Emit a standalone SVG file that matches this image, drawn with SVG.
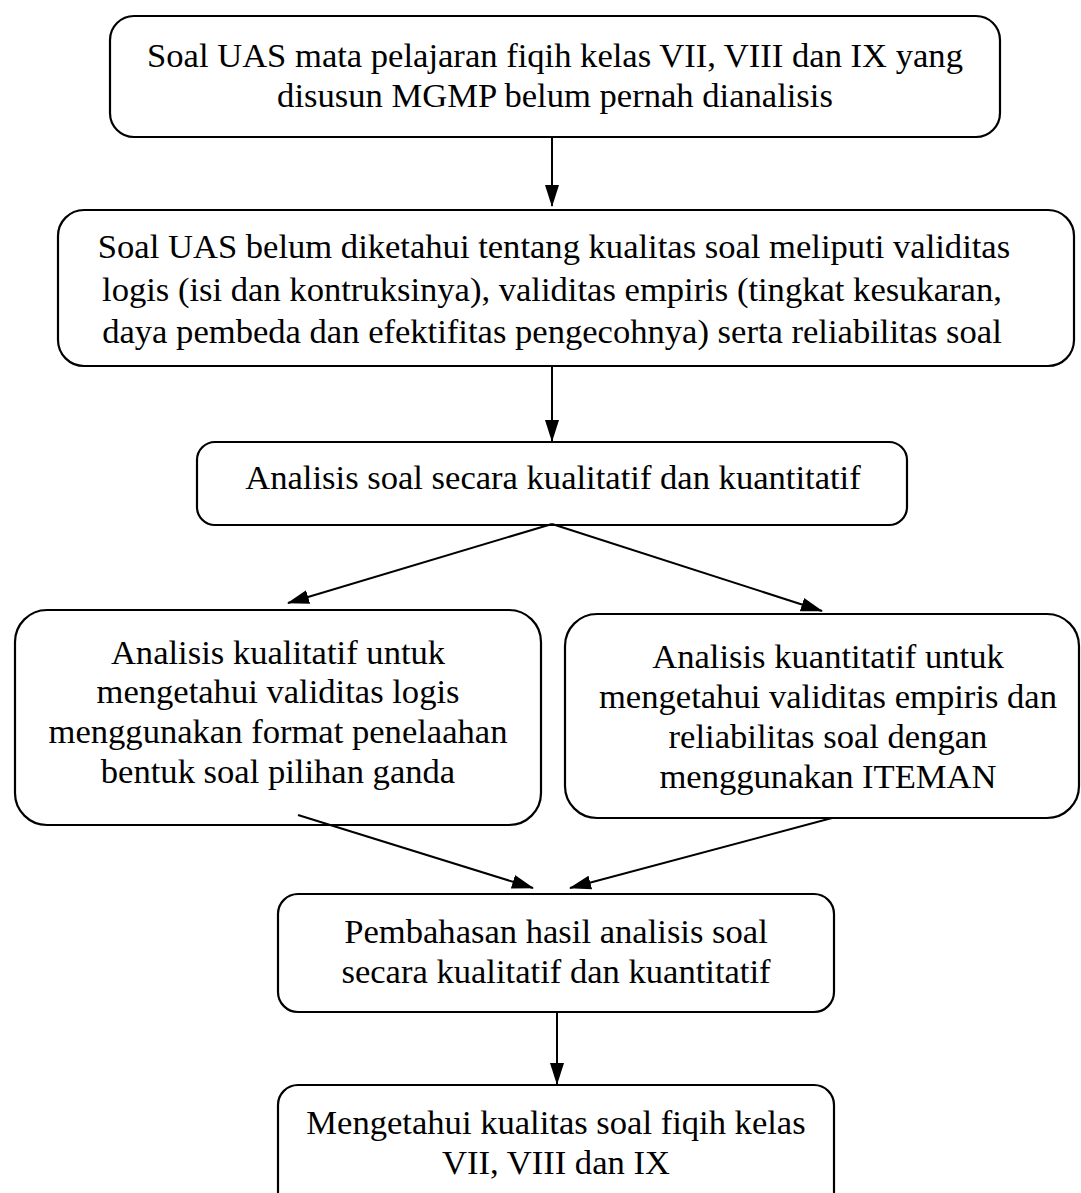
<svg xmlns="http://www.w3.org/2000/svg" width="1081" height="1193" viewBox="0 0 1081 1193">
<style>
.box{fill:#fff;stroke:#000;stroke-width:2.2}
.t{font-family:"Liberation Serif","Times New Roman",serif;font-size:34.6px;fill:#000;text-anchor:middle}
.c{fill:none;stroke:#000;stroke-width:2}
</style>
<defs>
<marker id="ah" markerWidth="22" markerHeight="16" refX="21" refY="8" orient="auto" markerUnits="userSpaceOnUse" viewBox="0 0 22 16">
<path d="M0,1 L22,8 L0,15 Z" fill="#000"/>
</marker>
</defs>
<rect width="1081" height="1193" fill="#fff"/>
<g id="n1">
<rect class="box" x="110" y="16" width="890" height="121" rx="24"/>
<text class="t" x="555" y="67">Soal UAS mata pelajaran fiqih kelas VII, VIII dan IX yang</text>
<text class="t" x="555" y="107">disusun MGMP belum pernah dianalisis</text>
</g>
<g id="n2">
<rect class="box" x="58" y="210" width="1016" height="156" rx="26"/>
<text class="t" x="554" y="258">Soal UAS belum diketahui tentang kualitas soal meliputi validitas</text>
<text class="t" x="552" y="301">logis (isi dan kontruksinya), validitas empiris (tingkat kesukaran,</text>
<text class="t" x="552" y="343">daya pembeda dan efektifitas pengecohnya) serta reliabilitas soal</text>
</g>
<g id="n3">
<rect class="box" x="197" y="442" width="710" height="83" rx="18"/>
<text class="t" x="553" y="489">Analisis soal secara kualitatif dan kuantitatif</text>
</g>
<g id="n4">
<rect class="box" x="15" y="610" width="526" height="215" rx="32"/>
<text class="t" x="278" y="664">Analisis kualitatif untuk</text>
<text class="t" x="278" y="703">mengetahui validitas logis</text>
<text class="t" x="278" y="743">menggunakan format penelaahan</text>
<text class="t" x="278" y="783">bentuk soal pilihan ganda</text>
</g>
<g id="n5">
<rect class="box" x="565" y="614" width="514" height="204" rx="32"/>
<text class="t" x="828" y="668">Analisis kuantitatif untuk</text>
<text class="t" x="828" y="708">mengetahui validitas empiris dan</text>
<text class="t" x="828" y="748">reliabilitas soal dengan</text>
<text class="t" x="828" y="788">menggunakan ITEMAN</text>
</g>
<g id="n6">
<rect class="box" x="278" y="894" width="556" height="118" rx="20"/>
<text class="t" x="556" y="943">Pembahasan hasil analisis soal</text>
<text class="t" x="556" y="983">secara kualitatif dan kuantitatif</text>
</g>
<g id="n7">
<rect class="box" x="278" y="1085" width="556" height="140" rx="20"/>
<text class="t" x="556" y="1134">Mengetahui kualitas soal fiqih kelas</text>
<text class="t" x="556" y="1174">VII, VIII dan IX</text>
</g>
<g id="connectors">
<line class="c" x1="552" y1="137" x2="552" y2="206" marker-end="url(#ah)"/>
<line class="c" x1="552" y1="366" x2="552" y2="441" marker-end="url(#ah)"/>
<line class="c" x1="552" y1="524" x2="288" y2="603" marker-end="url(#ah)"/>
<line class="c" x1="552" y1="524" x2="822" y2="611" marker-end="url(#ah)"/>
<line class="c" x1="298" y1="815" x2="533" y2="888" marker-end="url(#ah)"/>
<line class="c" x1="832" y1="818" x2="570" y2="888" marker-end="url(#ah)"/>
<line class="c" x1="557" y1="1012" x2="557" y2="1084" marker-end="url(#ah)"/>
</g>
</svg>
